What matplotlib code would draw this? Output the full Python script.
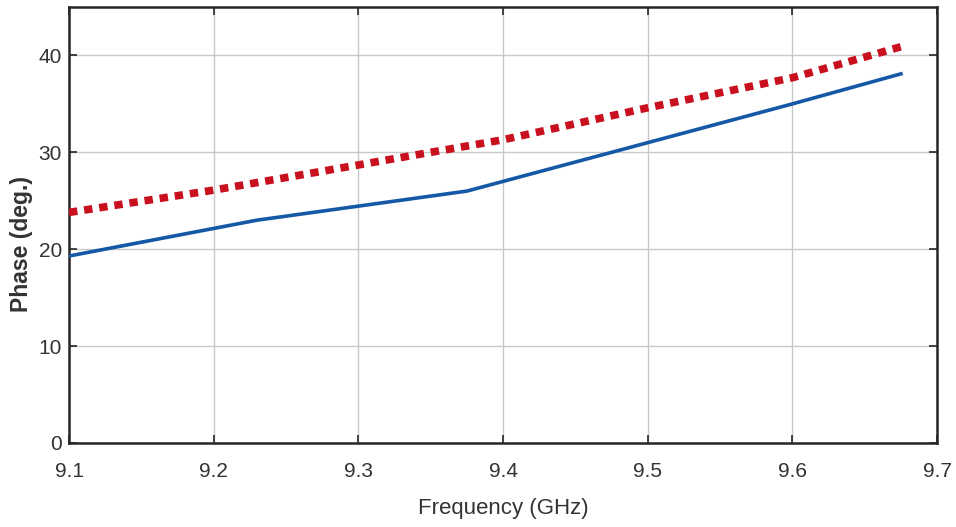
import matplotlib
matplotlib.use("Agg")
import matplotlib.pyplot as plt

plt.rcParams['font.family'] = ['Liberation Sans', 'DejaVu Sans']

# values
freq_sim = [9.1, 9.2, 9.3, 9.4, 9.5, 9.6, 9.675]
phase_sim = [23.8, 26.1, 28.7, 31.3, 34.6, 37.7, 40.9]

freq_meas = [9.1, 9.23, 9.375, 9.5, 9.6, 9.675]
phase_meas = [19.3, 23.0, 26.0, 31.0, 35.0, 38.1]

xticks = [9.1, 9.2, 9.3, 9.4, 9.5, 9.6, 9.7]
yticks = [0, 10, 20, 30, 40]

txt = '#333333'

fig = plt.figure(figsize=(9.56, 5.27), dpi=100)
ax = fig.add_axes([0.0722, 0.1594, 0.908, 0.8273])

ax.plot(freq_sim, phase_sim, color='#c8101e', linewidth=5.5,
        linestyle=(0, (1.1, 0.9)), solid_capstyle='butt', zorder=3)
ax.plot(freq_meas, phase_meas, color='#1458a6', linewidth=2.6, zorder=4)

ax.set_xlim(9.1, 9.7)
ax.set_ylim(0, 45)
ax.set_xticks(xticks)
ax.set_xticklabels([f'{v:.1f}' for v in xticks])
ax.set_yticks(yticks)

ax.grid(True, color='#c8c8c8', linewidth=1.0)
ax.set_axisbelow(True)

for s in ax.spines.values():
    s.set_linewidth(1.8)
    s.set_color('#262626')

ax.tick_params(direction='in', length=6, width=1.2, top=True, right=True,
               labelsize=15, colors='#262626', labelcolor=txt)
ax.tick_params(axis='x', pad=14)
ax.tick_params(axis='y', pad=5)

ax.set_xlabel('Frequency (GHz)', fontsize=16, color=txt, labelpad=12)
ax.set_ylabel('Phase (deg.)', fontsize=16.5, color=txt, fontweight='bold')
ax.yaxis.set_label_coords(-0.042, 0.456)

fig.savefig('out.png', dpi=100)
